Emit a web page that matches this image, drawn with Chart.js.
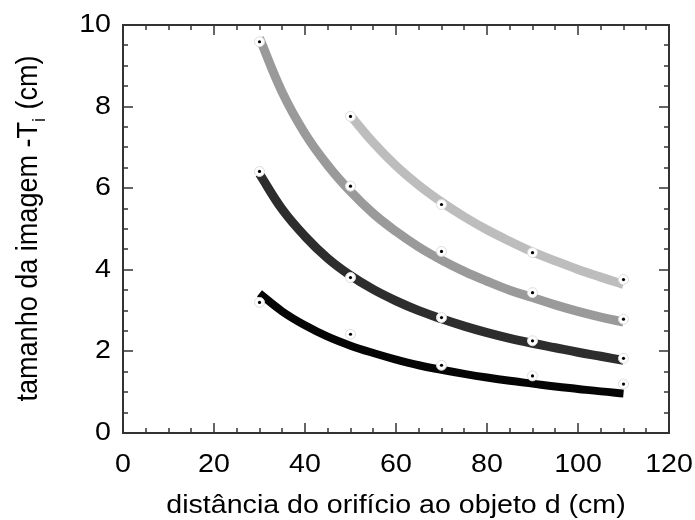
<!DOCTYPE html>
<html>
<head>
<meta charset="utf-8">
<script src="https://cdn.jsdelivr.net/npm/chart.js@4/dist/chart.umd.min.js"></script>
<style>
  html, body { margin: 0; padding: 0; background: #fff; }
  #wrap { width: 695px; height: 520px; }
</style>
</head>
<body>
<div id="wrap"><canvas id="chart" width="695" height="520"></canvas></div>
<script>
// curve (fit) values
const xCurve = [30, 35, 40, 45, 50, 55, 60, 65, 70, 75, 80, 85, 90, 95, 100, 105, 110];
const curveA = [3.42, 2.98, 2.64, 2.36, 2.14, 1.96, 1.80, 1.66, 1.55, 1.45, 1.36, 1.28, 1.21, 1.14, 1.08, 1.02, 0.97];
const curveB = [6.35, 5.48, 4.82, 4.28, 3.86, 3.52, 3.24, 3.00, 2.80, 2.62, 2.46, 2.32, 2.20, 2.09, 1.98, 1.88, 1.78];
const curveC = [9.68, 8.35, 7.34, 6.56, 5.92, 5.38, 4.94, 4.56, 4.24, 3.96, 3.72, 3.50, 3.32, 3.14, 2.98, 2.84, 2.72];
const xCurveD = [50, 55, 60, 65, 70, 75, 80, 85, 90, 95, 100, 105, 110];
const curveD = [7.78, 7.12, 6.55, 6.07, 5.66, 5.30, 4.98, 4.70, 4.44, 4.22, 4.01, 3.82, 3.64];

// measured points
const xPts = [30, 50, 70, 90, 110];
const ptsA = [3.2, 2.42, 1.66, 1.4, 1.2];
const ptsB = [6.41, 3.81, 2.83, 2.26, 1.83];
const ptsC = [9.59, 6.05, 4.45, 3.44, 2.79];
const xPtsD = [50, 70, 90, 110];
const ptsD = [7.76, 5.6, 4.42, 3.76];

const xTicks = [0, 20, 40, 60, 80, 100, 120];
const yTicks = [0, 2, 4, 6, 8, 10];

function pts(xs, ys) { return xs.map((x, i) => ({ x: x, y: ys[i] })); }

const curveColors = ['#050505', '#2d2d2d', '#9a9a9a', '#bdbdbd'];
const curveWidths = [8, 9, 9, 9];
const curves = [[xCurve, curveA], [xCurve, curveB], [xCurve, curveC], [xCurveD, curveD]];
const points = [[xPts, ptsA], [xPts, ptsB], [xPts, ptsC], [xPtsD, ptsD]];

const datasets = [];
points.forEach(p => {
  datasets.push({ type: 'scatter', data: pts(p[0], p[1]), pointRadius: 1.6, pointBackgroundColor: '#000', pointBorderWidth: 0, order: 0 });
  datasets.push({ type: 'scatter', data: pts(p[0], p[1]), pointRadius: 5, pointBackgroundColor: '#fff', pointBorderColor: '#ddd', pointBorderWidth: 1, order: 1 });
});
curves.forEach((c, i) => {
  datasets.push({ type: 'line', data: pts(c[0], c[1]), borderColor: curveColors[i], borderWidth: curveWidths[i], tension: 0.4, pointRadius: 0, fill: false, order: 2 });
});

const FONT = '"Liberation Sans", Arial, sans-serif';
const SX = 1.1; // text in the picture is a bit wider than normal

function wideText(ctx, txt, x, y, align) {
  ctx.save();
  ctx.translate(x, y);
  ctx.scale(SX, 1);
  ctx.textAlign = align;
  ctx.fillText(txt, 0, 0);
  ctx.restore();
}

const frame = {
  id: 'frame',
  afterDraw(chart) {
    const ctx = chart.ctx;
    const a = chart.chartArea;
    const xs = chart.scales.x, ys = chart.scales.y;
    ctx.save();
    ctx.strokeStyle = '#333';
    ctx.lineWidth = 2;
    ctx.strokeRect(a.left, a.top, a.right - a.left, a.bottom - a.top);
    ctx.lineWidth = 1.5;
    ctx.beginPath();
    for (let v = 0; v <= 120; v += 5) {
      const px = Math.round(xs.getPixelForValue(v));
      const len = v % 20 === 0 ? 10 : 5;
      ctx.moveTo(px, a.bottom); ctx.lineTo(px, a.bottom - len);
      ctx.moveTo(px, a.top); ctx.lineTo(px, a.top + len);
    }
    for (let v = 0; v <= 10; v += 0.5) {
      const py = Math.round(ys.getPixelForValue(v));
      const len = v % 2 === 0 ? 10 : 5;
      ctx.moveTo(a.left, py); ctx.lineTo(a.left + len, py);
      ctx.moveTo(a.right, py); ctx.lineTo(a.right - len, py);
    }
    ctx.stroke();

    // tick labels
    ctx.fillStyle = '#000';
    ctx.font = '26px ' + FONT;
    ctx.textBaseline = 'alphabetic';
    xs.ticks.forEach(t => wideText(ctx, String(t.value), xs.getPixelForValue(t.value), a.bottom + 39, 'center'));
    ys.ticks.forEach(t => wideText(ctx, String(t.value), a.left - 12, ys.getPixelForValue(t.value) + 7, 'right'));

    // axis titles
    wideText(ctx, 'distância do orifício ao objeto d (cm)', (a.left + a.right) / 2, 513, 'center');

    ctx.translate(37, (a.top + a.bottom) / 2);
    ctx.rotate(-Math.PI / 2);
    ctx.scale(1.04, SX);
    const p1 = 'tamanho da imagem -T', sub = 'i', p2 = ' (cm)';
    ctx.font = '26px ' + FONT;
    const w1 = ctx.measureText(p1).width, w3 = ctx.measureText(p2).width;
    ctx.font = '17px ' + FONT;
    const w2 = ctx.measureText(sub).width;
    let x0 = -(w1 + w2 + w3) / 2;
    ctx.textAlign = 'left';
    ctx.font = '26px ' + FONT;
    ctx.fillText(p1, x0, 0);
    ctx.font = '17px ' + FONT;
    ctx.fillText(sub, x0 + w1, 7);
    ctx.font = '26px ' + FONT;
    ctx.fillText(p2, x0 + w1 + w2 + 1, 0);
    ctx.restore();
  }
};

new Chart(document.getElementById('chart'), {
  data: { datasets: datasets },
  options: {
    responsive: false,
    animation: false,
    layout: { padding: { left: 0, right: 26, top: 25, bottom: 0 } },
    plugins: { legend: { display: false }, tooltip: { enabled: false } },
    scales: {
      x: {
        type: 'linear', min: 0, max: 120,
        afterBuildTicks: s => { s.ticks = xTicks.map(v => ({ value: v })); },
        afterFit: s => { s.height = 87; },
        grid: { display: false },
        border: { display: false },
        ticks: { display: false }
      },
      y: {
        type: 'linear', min: 0, max: 10,
        afterBuildTicks: s => { s.ticks = yTicks.map(v => ({ value: v })); },
        afterFit: s => { s.width = 123; },
        grid: { display: false },
        border: { display: false },
        ticks: { display: false }
      }
    }
  },
  plugins: [frame]
});
</script>
</body>
</html>
